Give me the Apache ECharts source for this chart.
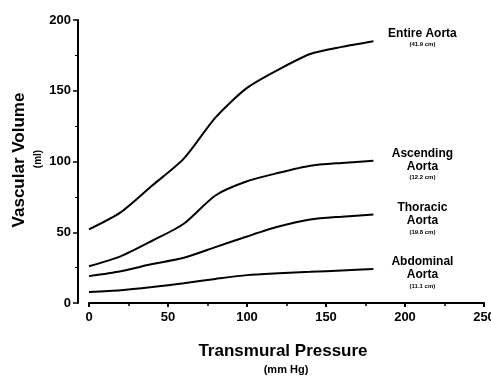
<!DOCTYPE html>
<html><head><meta charset="utf-8">
<script src="https://cdn.jsdelivr.net/npm/echarts@6/dist/echarts.min.js"></script>
<style>html,body{margin:0;padding:0;background:#fff}#c{width:491px;height:377px}</style>
</head><body><div id="c"></div>
<script>
var pressure = [0, 20, 40, 60, 80, 100, 120, 140, 160, 180];
var entireAorta = [52, 64, 83, 102, 131, 152, 165, 176, 181, 185];
var ascendingAorta = [26, 33, 44, 56, 76, 86, 92, 97, 99, 100.5];
var thoracicAorta = [19, 22.5, 27.5, 32, 39.5, 47, 54, 59, 61, 62.5];
var abdominalAorta = [7.7, 9, 11.3, 14, 17, 19.7, 21, 22, 23, 24];
var seriesNames = ['Entire Aorta', 'Ascending\nAorta', 'Thoracic\nAorta', 'Abdominal\nAorta'];
var seriesLengths = ['(41.9 cm)', '(12.2 cm)', '(19.8 cm)', '(11.1 cm)'];
var xTicks = [0, 50, 100, 150, 200, 250];
var yTicks = [0, 50, 100, 150, 200];

var FONT = '"Liberation Sans", Arial, sans-serif';
var allData = [entireAorta, ascendingAorta, thoracicAorta, abdominalAorta];
var labelDy = [-3, 4, 5, 4];

function mk(i) {
  var nameLines = seriesNames[i].split('\n').map(function (s) { return '{a|' + s + '}'; }).join('\n');
  return {
    type: 'line',
    data: pressure.map(function (p, k) { return [p, allData[i][k]]; }),
    smooth: 0.25,
    showSymbol: false,
    lineStyle: { color: '#000', width: 2 },
    endLabel: {
      show: true,
      formatter: nameLines + '\n{b|' + seriesLengths[i] + '}',
      position: 'right',
      distance: 0,
      align: 'center',
      verticalAlign: 'middle',
      offset: [49, labelDy[i]],
      rich: {
        a: { fontFamily: FONT, fontWeight: 'bold', fontSize: 12, color: '#000', lineHeight: 13, align: 'center' },
        b: { fontFamily: FONT, fontWeight: 'bold', fontSize: 6, color: '#000', lineHeight: 10, align: 'center' }
      }
    }
  };
}

var chart = echarts.init(document.getElementById('c'), null, { renderer: 'canvas' });
chart.setOption({
  animation: false,
  backgroundColor: '#fff',
  grid: { left: 89, right: 7, top: 20, bottom: 74, containLabel: false, outerBoundsMode: 'none' },
  xAxis: {
    type: 'value', min: xTicks[0], max: xTicks[xTicks.length - 1], interval: 50,
    axisLine: { onZero: false, lineStyle: { color: '#000', width: 2 } },
    axisTick: { show: true, inside: false, length: 4, lineStyle: { color: '#000', width: 2 } },
    minorTick: { show: true, splitNumber: 2, length: 3, lineStyle: { color: '#000', width: 1.5 } },
    splitLine: { show: false },
    axisLabel: { color: '#000', fontFamily: FONT, fontWeight: 'bold', fontSize: 13, margin: 8 }
  },
  yAxis: {
    type: 'value', min: yTicks[0], max: yTicks[yTicks.length - 1], interval: 50,
    offset: 11,
    axisLine: { show: true, onZero: false, lineStyle: { color: '#000', width: 2 } },
    axisTick: { show: true, inside: false, length: 5, lineStyle: { color: '#000', width: 1.5 } },
    minorTick: { show: true, splitNumber: 2, length: 3, lineStyle: { color: '#000', width: 1 } },
    splitLine: { show: false },
    axisLabel: { color: '#000', fontFamily: FONT, fontWeight: 'bold', fontSize: 13, margin: 7 }
  },
  graphic: [
    { type: 'text', x: 283, y: 351, style: { text: 'Transmural Pressure', font: 'bold 17px ' + FONT, fill: '#000', align: 'center', verticalAlign: 'middle' } },
    { type: 'text', x: 286, y: 370, style: { text: '(mm Hg)', font: 'bold 11px ' + FONT, fill: '#000', align: 'center', verticalAlign: 'middle' } },
    { type: 'text', x: 19, y: 160, rotation: Math.PI / 2, style: { text: 'Vascular Volume', font: 'bold 17px ' + FONT, fill: '#000', align: 'center', verticalAlign: 'middle' } },
    { type: 'text', x: 38, y: 159, rotation: Math.PI / 2, style: { text: '(ml)', font: 'bold 10px ' + FONT, fill: '#000', align: 'center', verticalAlign: 'middle' } }
  ],
  series: [mk(0), mk(1), mk(2), mk(3)]
});
</script></body></html>
